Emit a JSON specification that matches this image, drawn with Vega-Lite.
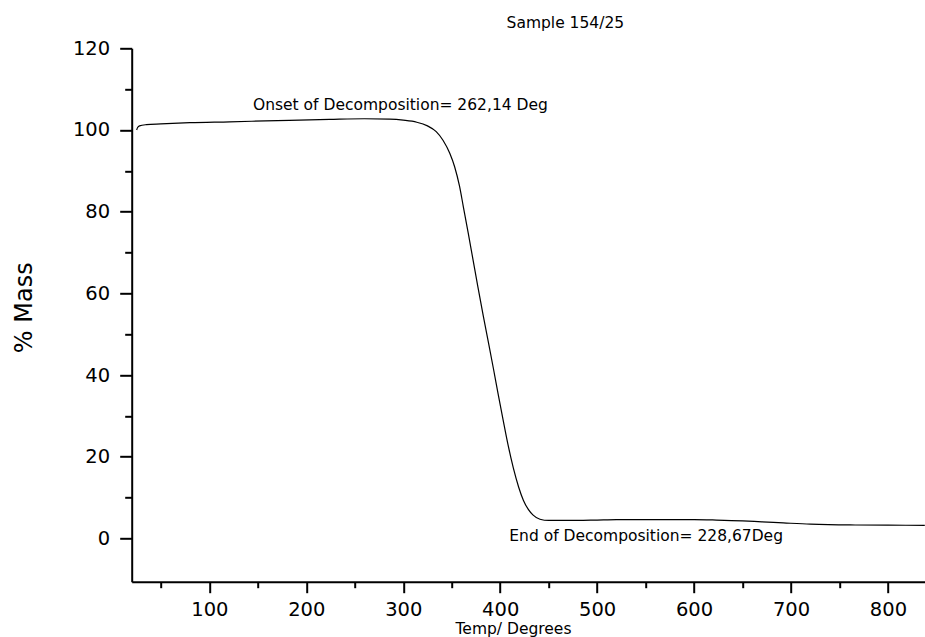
{
  "$schema": "https://vega.github.io/schema/vega-lite/v6.json",
  "width": 793.3,
  "height": 533.4,
  "autosize": {"type": "none"},
  "padding": {"left": 131.7, "top": 48.3, "right": 0, "bottom": 55.3},
  "background": "white",
  "config": {"view": {"stroke": null}},
  "title": {
    "text": "Sample 154/25",
    "font": "DejaVu Sans",
    "fontSize": 15.5,
    "fontWeight": "normal",
    "color": "black",
    "anchor": "middle",
    "frame": "group",
    "baseline": "alphabetic",
    "dx": 37,
    "offset": -5
  },
  "datasets": {
    "curve": [
      {"T": 25, "M": 100.0},
      {"T": 26, "M": 100.6},
      {"T": 28, "M": 101.0},
      {"T": 35, "M": 101.3},
      {"T": 50, "M": 101.5},
      {"T": 80, "M": 101.8},
      {"T": 121, "M": 102.0},
      {"T": 170, "M": 102.3},
      {"T": 224, "M": 102.6},
      {"T": 260, "M": 102.75},
      {"T": 286, "M": 102.65},
      {"T": 300, "M": 102.4},
      {"T": 314, "M": 101.9},
      {"T": 325, "M": 101.0},
      {"T": 334, "M": 99.6},
      {"T": 341, "M": 97.5},
      {"T": 348, "M": 94.3},
      {"T": 353, "M": 91.0},
      {"T": 358, "M": 86.3},
      {"T": 362, "M": 81.2},
      {"T": 367, "M": 74.8},
      {"T": 372, "M": 68.2},
      {"T": 377, "M": 61.6},
      {"T": 382.6, "M": 54.4},
      {"T": 388, "M": 47.8},
      {"T": 393, "M": 41.6},
      {"T": 398, "M": 35.2},
      {"T": 403, "M": 29.0},
      {"T": 408, "M": 23.0},
      {"T": 413.6, "M": 17.2},
      {"T": 419, "M": 12.6},
      {"T": 424, "M": 9.3},
      {"T": 429, "M": 7.1},
      {"T": 434, "M": 5.7},
      {"T": 441, "M": 4.7},
      {"T": 450, "M": 4.4},
      {"T": 462, "M": 4.4},
      {"T": 480, "M": 4.4},
      {"T": 500, "M": 4.5},
      {"T": 520, "M": 4.6},
      {"T": 555, "M": 4.6},
      {"T": 600, "M": 4.6},
      {"T": 623, "M": 4.5},
      {"T": 650, "M": 4.3},
      {"T": 670, "M": 4.05},
      {"T": 692, "M": 3.8},
      {"T": 720, "M": 3.5},
      {"T": 761, "M": 3.3},
      {"T": 800, "M": 3.25},
      {"T": 838, "M": 3.2}
    ],
    "notes": [
      {"T": 145, "M": 104.9, "label": "Onset of Decomposition= 262,14 Deg"},
      {"T": 409.4, "M": -0.6, "label": "End of Decomposition= 228,67Deg"}
    ]
  },
  "layer": [
    {
      "data": {"name": "curve"},
      "mark": {"type": "line", "color": "black", "strokeWidth": 1.2, "interpolate": "monotone"},
      "encoding": {
        "x": {
          "field": "T",
          "type": "quantitative",
          "scale": {"domain": [19.9, 838.2], "nice": false, "zero": false},
          "axis": {
            "title": "Temp/ Degrees",
            "titleFont": "DejaVu Sans",
            "titleFontSize": 15.5,
            "titleFontWeight": "normal",
            "titleColor": "black",
            "titleAnchor": "start",
            "titleAlign": "center",
            "titleBaseline": "alphabetic",
            "titleX": 381.3,
            "titleY": 52,
            "values": [50, 100, 150, 200, 250, 300, 350, 400, 450, 500, 550, 600, 650, 700, 750, 800],
            "labelExpr": "datum.value % 100 === 0 ? datum.label : ''",
            "labelFont": "DejaVu Sans",
            "labelFontSize": 19.5,
            "labelColor": "black",
            "labelPadding": 8,
            "labelFlush": false,
            "labelOverlap": false,
            "domainColor": "black",
            "domainWidth": 2,
            "tickColor": "black",
            "tickWidth": 2,
            "tickSize": {"condition": {"test": "datum.value % 100 === 0", "value": 11}, "value": 6},
            "grid": false
          }
        },
        "y": {
          "field": "M",
          "type": "quantitative",
          "scale": {"domain": [-10.6, 120], "nice": false, "zero": false},
          "axis": {
            "title": "% Mass",
            "titleFont": "DejaVu Sans",
            "titleFontSize": 24,
            "titleFontWeight": "normal",
            "titleColor": "black",
            "titleAngle": -90,
            "titleAlign": "center",
            "titleBaseline": "alphabetic",
            "titleX": -100,
            "titleY": 259,
            "values": [0, 10, 20, 30, 40, 50, 60, 70, 80, 90, 100, 110, 120],
            "labelExpr": "datum.value % 20 === 0 ? datum.label : ''",
            "labelFont": "DejaVu Sans",
            "labelFontSize": 19.5,
            "labelColor": "black",
            "labelPadding": 10,
            "labelFlush": false,
            "labelOverlap": false,
            "domainColor": "black",
            "domainWidth": 2,
            "tickColor": "black",
            "tickWidth": 2,
            "tickSize": {"condition": {"test": "datum.value % 20 === 0", "value": 12}, "value": 7},
            "grid": false
          }
        }
      }
    },
    {
      "data": {"name": "notes"},
      "mark": {"type": "text", "align": "left", "baseline": "alphabetic", "font": "DejaVu Sans", "fontSize": 15.5, "color": "black"},
      "encoding": {
        "x": {"field": "T", "type": "quantitative"},
        "y": {"field": "M", "type": "quantitative"},
        "text": {"field": "label"}
      }
    }
  ]
}
